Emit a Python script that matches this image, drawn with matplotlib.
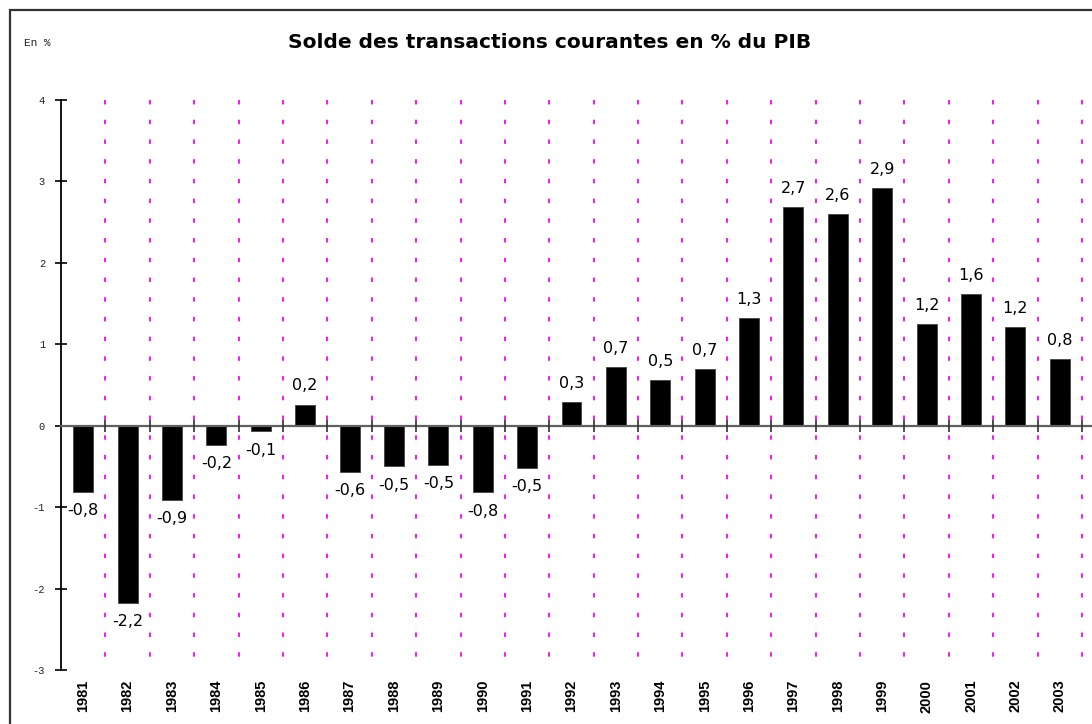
import matplotlib
matplotlib.use('Agg')
import matplotlib.pyplot as plt
from matplotlib.patches import Rectangle

# Solde des transactions courantes (en % du PIB)
annees = ['1981', '1982', '1983', '1984', '1985', '1986', '1987', '1988',
          '1989', '1990', '1991', '1992', '1993', '1994', '1995', '1996',
          '1997', '1998', '1999', '2000', '2001', '2002', '2003']
valeurs = [-0.81, -2.18, -0.91, -0.24, -0.07, 0.26, -0.57, -0.50,
           -0.48, -0.82, -0.52, 0.29, 0.72, 0.56, 0.70, 1.32,
           2.69, 2.60, 2.92, 1.25, 1.62, 1.21, 0.82]
etiquettes = ['-0,8', '-2,2', '-0,9', '-0,2', '-0,1', '0,2', '-0,6', '-0,5',
              '-0,5', '-0,8', '-0,5', '0,3', '0,7', '0,5', '0,7', '1,3',
              '2,7', '2,6', '2,9', '1,2', '1,6', '1,2', '0,8']
graduations_y = [-3, -2, -1, 0, 1, 2, 3, 4]

plt.rcParams['font.family'] = ['Liberation Sans', 'DejaVu Sans']
plt.rcParams['lines.scale_dashes'] = False

fig = plt.figure(figsize=(10.92, 7.24), dpi=100)
ax = fig.add_axes([61 / 1092, 1 - 670 / 724, (1082 - 61) / 1092, (670 - 100) / 724])

n = len(annees)
centres = [i + 0.5 for i in range(n)]
limites = list(range(1, n + 1))

# lignes verticales en pointillés magenta, tracées du haut vers le bas
for x in limites:
    ax.plot([x, x], [4, -3], color='#ff00ff', lw=1.3, dashes=(3.2, 11.0),
            zorder=1, clip_on=False)

ax.bar(centres, valeurs, width=0.45, color='black', edgecolor='#444444',
       linewidth=0.6, zorder=3)

# ligne du zéro avec ses petites graduations
ax.axhline(0, color='#606060', lw=1.6, xmax=1.02, clip_on=False, zorder=4)
ax.plot(limites, [0] * n, ls='none', marker='|', ms=9, mew=1.2,
        color='#303030', zorder=4, clip_on=False)

for x, v, t in zip(centres, valeurs, etiquettes):
    if v >= 0:
        ax.annotate(t, (x, v), xytext=(0, 8), textcoords='offset points',
                    ha='center', va='bottom', fontsize=11.5, family='DejaVu Sans')
    else:
        ax.annotate(t, (x, v), xytext=(0, -8), textcoords='offset points',
                    ha='center', va='top', fontsize=11.5, family='DejaVu Sans')

ax.set_xlim(0, n)
ax.set_ylim(-3, 4)
ax.set_yticks(graduations_y)
ax.set_yticklabels([str(g) for g in graduations_y], family='Liberation Mono',
                   fontsize=7.5, color='#222222')
ax.tick_params(axis='y', direction='inout', length=9, width=1.2, pad=7)
ax.set_xticks(centres)
ax.set_xticklabels(annees, rotation=90, fontsize=10.5, fontweight='bold', va='top')
ax.tick_params(axis='x', length=0, pad=7)

for s in ['top', 'right', 'bottom']:
    ax.spines[s].set_visible(False)
ax.spines['left'].set_linewidth(1.3)

fig.text(550 / 1092, 1 - 43 / 724, 'Solde des transactions courantes en % du PIB',
         ha='center', va='center', fontsize=14.5, fontweight='bold',
         family='DejaVu Sans')
fig.text(24 / 1092, 1 - 43 / 724, 'En %', ha='left', va='center',
         family='Liberation Mono', fontsize=8, color='#222222')

# cadre extérieur
fig.patches.append(Rectangle((10 / 1092, -0.1), 1.2, 1.1 - 10 / 724,
                             transform=fig.transFigure, fill=False,
                             edgecolor='#333333', lw=1.6))

fig.savefig('out.png', dpi=100)
